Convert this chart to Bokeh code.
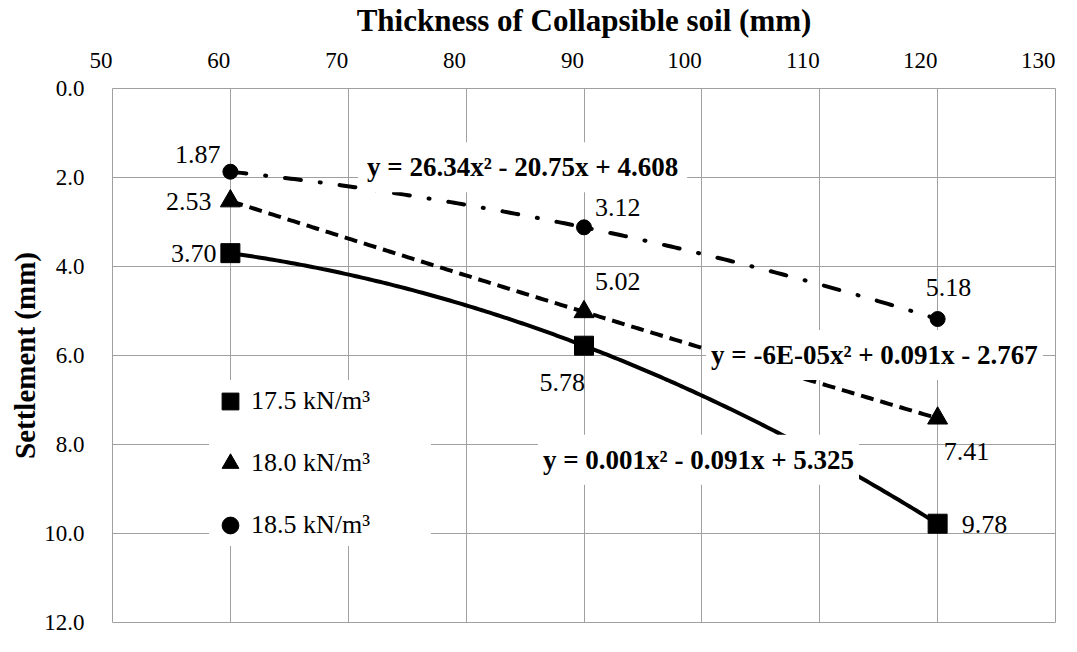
import numpy as np
from bokeh.plotting import figure
from bokeh.models import (Range1d, FixedTicker, ColumnDataSource, Legend,
                          LegendItem, Label, PrintfTickFormatter)
from bokeh.embed import file_html
from bokeh.resources import INLINE
from bokeh.core.properties import value

# ---------------- data ----------------
thickness = [60, 90, 120]
series_names = ["17.5 kN/m³", "18.0 kN/m³", "18.5 kN/m³"]
settle_175 = [3.70, 5.78, 9.78]
settle_180 = [2.53, 5.02, 7.41]
settle_185 = [1.87, 3.12, 5.18]
equations = ["y = 0.001x² - 0.091x + 5.325",
             "y = -6E-05x² + 0.091x - 2.767",
             "y = 26.34x² - 20.75x + 4.608"]
x_ticks = [50, 60, 70, 80, 90, 100, 110, 120, 130]
y_ticks = [0, 2, 4, 6, 8, 10, 12]
x_title = "Thickness of Collapsible soil (mm)"
y_title = "Settlement (mm)"

# ---------------- styles / layout ----------------
FONT = "Liberation Serif"
GRID = "#a0a0a0"
markers = ["square", "triangle", "circle"]
marker_sizes = [19, 20, 15]
dashes = ["solid", "13 7", "16 19 1 19"]
caps = ["butt", "butt", "round"]
# data label offsets (dx px, dy px, align) per series / point
label_offsets = [
    [(-14, 0, "right"), (1, 37, "right"), (24, 1, "left")],
    [(-19, 0, "right"), (11, -30, "left"), (6, 33, "left")],
    [(-10, -17, "right"), (11, -20, "left"), (-12, -32, "left")],
]
# equation label anchors (data units, left/middle)
eq_anchor = [(86.09, 8.34), (100.35, 5.99), (70.83, 1.77)]
eq_pad = [(5, 10), (5, 10), (9, 10)]

p = figure(width=1061, height=636, output_backend="svg", toolbar_location=None,
           x_axis_location="above",
           x_range=Range1d(x_ticks[0], x_ticks[-1]),
           y_range=Range1d(y_ticks[-1], y_ticks[0]),
           min_border_left=112, min_border_right=6,
           min_border_top=88, min_border_bottom=14)
p.background_fill_color = "white"
p.border_fill_color = "white"
p.outline_line_color = GRID
p.outline_line_width = 1

# x axis (top); a vanishing tilt makes the labels right-aligned to the
# grid lines, as in the Excel original
xa = p.xaxis[0]
xa.ticker = FixedTicker(ticks=x_ticks)
xa.major_label_orientation = -0.0001
xa.axis_label = x_title
xa.axis_label_text_font = FONT
xa.axis_label_text_font_style = "bold"
xa.axis_label_text_font_size = "31px"
xa.axis_label_text_color = "black"
xa.major_label_text_font = FONT
xa.major_label_text_font_size = "23px"
xa.major_label_text_color = "black"
xa.major_label_standoff = 22
xa.axis_label_standoff = 4
xa.axis_line_color = None
xa.major_tick_line_color = None
xa.minor_tick_line_color = None

ya = p.yaxis[0]
ya.ticker = FixedTicker(ticks=y_ticks)
ya.formatter = PrintfTickFormatter(format="%.1f")
ya.axis_label = y_title
ya.axis_label_text_font = FONT
ya.axis_label_text_font_style = "bold"
ya.axis_label_text_font_size = "29px"
ya.axis_label_text_color = "black"
ya.axis_label_standoff = 0
ya.major_label_text_font = FONT
ya.major_label_text_font_size = "23px"
ya.major_label_text_color = "black"
ya.major_label_standoff = 22
ya.axis_line_color = None
ya.major_tick_line_color = None
ya.minor_tick_line_color = None

p.xgrid.ticker = FixedTicker(ticks=x_ticks)
p.xgrid.grid_line_color = GRID
p.ygrid.grid_line_color = GRID
p.xgrid.grid_line_width = 1
p.ygrid.grid_line_width = 1

all_series = [settle_175, settle_180, settle_185]
legend_items = []
xs_fit = np.linspace(thickness[0], thickness[-1], 200)
for i, ys in enumerate(all_series):
    coef = np.polyfit(thickness, ys, 2)
    p.line(xs_fit, np.polyval(coef, xs_fit), line_color="black", line_width=4,
           line_dash=dashes[i], line_cap=caps[i])
for i, ys in enumerate(all_series):
    r = p.scatter(thickness, ys, marker=markers[i], size=marker_sizes[i],
                  fill_color="black", line_color="black")
    legend_items.append(LegendItem(label=series_names[i], renderers=[r]))
    src = ColumnDataSource(dict(
        x=thickness, y=ys, text=[f"{v:.2f}" for v in ys],
        dx=[o[0] for o in label_offsets[i]],
        dy=[o[1] for o in label_offsets[i]],
        al=[o[2] for o in label_offsets[i]]))
    p.text(x="x", y="y", text="text", x_offset="dx", y_offset="dy",
           text_align="al", text_baseline="middle", source=src,
           text_font=value(FONT), text_font_size=value("26px"),
           text_color="black")

for eq, (ex, ey), pad in zip(equations, eq_anchor, eq_pad):
    p.add_layout(Label(x=ex, y=ey, text=eq, text_font=FONT,
                       text_font_size="27px", text_font_style="bold",
                       text_color="black", text_align="left",
                       text_baseline="middle",
                       background_fill_color="white", background_fill_alpha=1.0,
                       padding=pad))

legend = Legend(items=legend_items, location=(97, 76),
                glyph_width=42, glyph_height=42, label_standoff=0,
                label_width=180, padding=0, spacing=20, margin=0,
                label_text_font=FONT, label_text_font_size="26px",
                label_text_color="black",
                background_fill_color="white", background_fill_alpha=1.0,
                border_line_color=None)
p.add_layout(legend)

open("out.html", "w").write(file_html(p, INLINE))
